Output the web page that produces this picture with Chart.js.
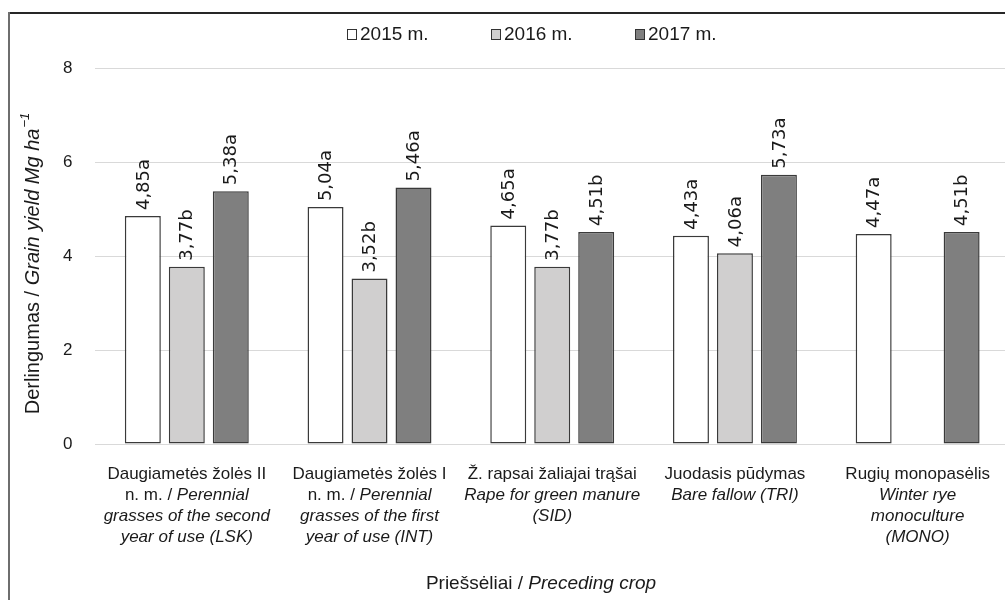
<!DOCTYPE html>
<html>
<head>
<meta charset="utf-8">
<script src="https://cdn.jsdelivr.net/npm/chart.js@4"></script>
<style>
  html, body { margin: 0; background: #fff; overflow: hidden; }
  #wrap { position: relative; width: 1005px; height: 600px; overflow: hidden; }
  #legend { position: absolute; top: 23px; left: 347px; display: flex; font: 19px "Liberation Sans", Arial, sans-serif; color: #1a1a1a; }
  #legend .item { display: flex; align-items: center; width: 144px; }
  #legend .box { width: 8px; height: 9px; border: 1px solid #333; margin-right: 3px; }
</style>
</head>
<body>
<div id="wrap">
  <canvas id="chart" width="1009" height="600"></canvas>
  <div id="legend"></div>
</div>
<script>
// plain category names (used by the x scale)
const categories = ["LSK", "INT", "SID", "TRI", "MONO"];

// category label lines, each line is a list of [text, italic]
const categoryLines = [
    [[["Daugiametės žolės II", false]], [["n. m. / ", false], ["Perennial", true]], [["grasses of the second", true]], [["year of use (LSK)", true]]],
    [[["Daugiametės žolės I", false]], [["n. m. / ", false], ["Perennial", true]], [["grasses of the first", true]], [["year of use (INT)", true]]],
    [[["Ž. rapsai žaliajai trąšai", false]], [["Rape for green manure", true]], [["(SID)", true]]],
    [[["Juodasis pūdymas", false]], [["Bare fallow (TRI)", true]]],
    [[["Rugių monopasėlis", false]], [["Winter rye", true]], [["monoculture", true]], [["(MONO)", true]]]
];

const seriesNames = ["2015 m.", "2016 m.", "2017 m."];
const yield2015 = [4.85, 5.04, 4.65, 4.43, 4.47];
const yield2016 = [3.77, 3.52, 3.77, 4.06, null];
const yield2017 = [5.38, 5.46, 4.51, 5.73, 4.51];
const letters2015 = ["a", "a", "a", "a", "a"];
const letters2016 = ["b", "b", "b", "a", ""];
const letters2017 = ["a", "a", "b", "a", "b"];
const yTicks = [0, 2, 4, 6, 8];

const colors = ["#ffffff", "#d0cfcf", "#7f7f7f"];
const letters = [letters2015, letters2016, letters2017];

const FONT = '"Liberation Sans", Arial, sans-serif';

// legend
const legend = document.getElementById("legend");
seriesNames.forEach((name, i) => {
    const item = document.createElement("div");
    item.className = "item";
    item.innerHTML = '<span class="box" style="background:' + colors[i] + '"></span><span>' + name + '</span>';
    legend.appendChild(item);
});

function drawSegments(ctx, segs, cx, y, size) {
    let total = 0;
    segs.forEach(s => {
        ctx.font = (s[1] ? "italic " : "") + size + "px " + FONT;
        total += ctx.measureText(s[0]).width;
    });
    let x = cx - total / 2;
    segs.forEach(s => {
        ctx.font = (s[1] ? "italic " : "") + size + "px " + FONT;
        ctx.fillText(s[0], x, y);
        x += ctx.measureText(s[0]).width;
    });
}

const extras = {
    id: "extras",
    afterDatasetsDraw(chart) {
        const ctx = chart.ctx;
        ctx.save();
        ctx.fillStyle = "#1a1a1a";
        ctx.font = '18px "DejaVu Sans", sans-serif';
        ctx.textAlign = "left";
        ctx.textBaseline = "middle";
        chart.data.datasets.forEach((ds, i) => {
            chart.getDatasetMeta(i).data.forEach((bar, j) => {
                const v = ds.data[j];
                if (v == null) return;
                const txt = v.toFixed(2).replace(".", ",") + letters[i][j];
                ctx.save();
                ctx.translate(bar.x + 1, bar.y - 6);
                ctx.rotate(-Math.PI / 2);
                ctx.fillText(txt, 0, 0);
                ctx.restore();
            });
        });
        ctx.restore();
    },
    afterDraw(chart) {
        const ctx = chart.ctx;
        const area = chart.chartArea;
        const xs = chart.scales.x;
        ctx.save();
        ctx.fillStyle = "#1a1a1a";
        ctx.textAlign = "left";
        ctx.textBaseline = "middle";

        // category labels
        categoryLines.forEach((lines, i) => {
            const cx = xs.getPixelForValue(i);
            lines.forEach((segs, k) => {
                drawSegments(ctx, segs, cx, area.bottom + 30 + k * 21, 17);
            });
        });

        // x axis title
        drawSegments(ctx, [["Priešsėliai / ", false], ["Preceding crop", true]], 541, 584, 19);

        // y axis title
        ctx.save();
        ctx.translate(33, 264);
        ctx.rotate(-Math.PI / 2);
        const segs = [["Derlingumas / ", false], ["Grain yield Mg ha", true]];
        ctx.font = "italic 13px " + FONT;
        const supW = ctx.measureText("−1").width;
        let total = supW;
        segs.forEach(s => {
            ctx.font = (s[1] ? "italic " : "") + "20px " + FONT;
            total += ctx.measureText(s[0]).width;
        });
        let x = -total / 2;
        segs.forEach(s => {
            ctx.font = (s[1] ? "italic " : "") + "20px " + FONT;
            ctx.fillText(s[0], x, 0);
            x += ctx.measureText(s[0]).width;
        });
        ctx.font = "italic 13px " + FONT;
        ctx.fillText("−1", x + 1, -8);
        ctx.restore();

        // frame (top and left edges)
        ctx.lineWidth = 2;
        ctx.strokeStyle = "#262626";
        ctx.beginPath();
        ctx.moveTo(8, 13);
        ctx.lineTo(1009, 13);
        ctx.stroke();
        ctx.strokeStyle = "#6e6e6e";
        ctx.beginPath();
        ctx.moveTo(9, 12);
        ctx.lineTo(9, 600);
        ctx.stroke();
        ctx.restore();
    }
};

const ctx = document.getElementById("chart").getContext("2d");
new Chart(ctx, {
    type: "bar",
    data: {
        labels: categories,
        datasets: [yield2015, yield2016, yield2017].map((d, i) => ({
            label: seriesNames[i],
            data: d,
            backgroundColor: colors[i],
            borderColor: "#3a3a3a",
            borderWidth: 1.5,
            borderSkipped: false,
            categoryPercentage: 0.722,
            barPercentage: 0.818
        }))
    },
    options: {
        responsive: false,
        animation: false,
        layout: { padding: { top: 68, bottom: 148, left: 40, right: 0 } },
        plugins: {
            legend: { display: false },
            tooltip: { enabled: false }
        },
        scales: {
            x: {
                grid: { display: false },
                border: { display: false },
                ticks: { display: false }
            },
            y: {
                min: 0,
                max: 8,
                afterBuildTicks: axis => { axis.ticks = yTicks.map(v => ({ value: v })); },
                grid: { color: "#d9d9d9", drawTicks: false },
                border: { display: false },
                ticks: {
                    padding: 23,
                    color: "#1a1a1a",
                    font: { family: FONT, size: 17 }
                }
            }
        }
    },
    plugins: [extras]
});
</script>
</body>
</html>
